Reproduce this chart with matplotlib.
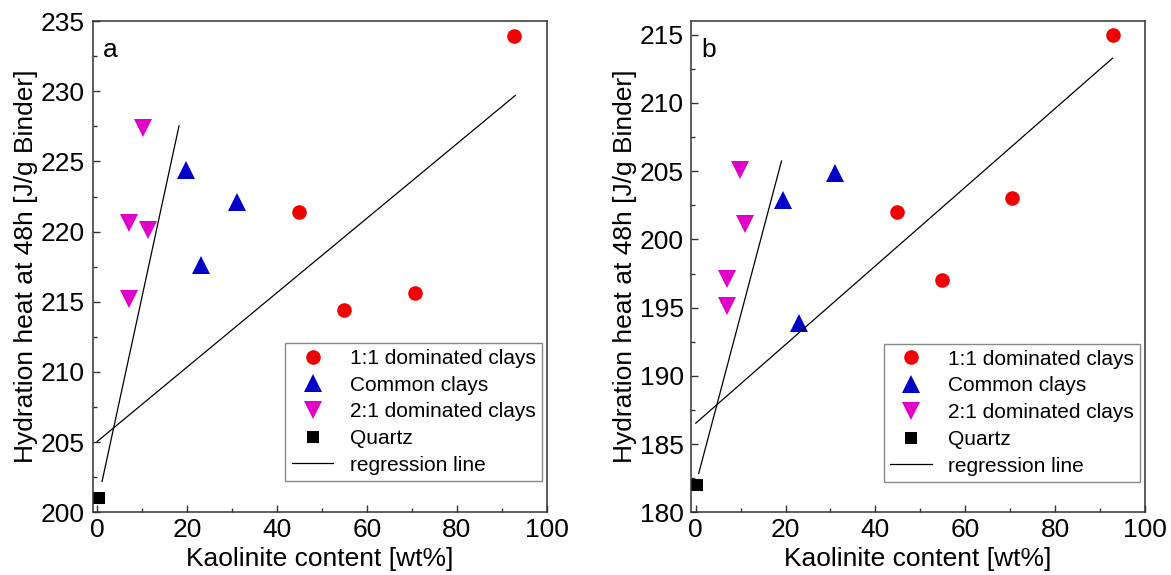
import matplotlib
matplotlib.use("Agg")
import matplotlib.pyplot as plt
from matplotlib.ticker import MultipleLocator

plt.rcParams['font.family'] = ['Liberation Sans', 'DejaVu Sans']

# ---- data: panel a ----
a_11_x = [92.8, 44.9, 55.0, 70.8]
a_11_y = [233.9, 221.4, 214.4, 215.6]
a_common_x = [19.8, 31.1, 23.1]
a_common_y = [224.4, 222.1, 217.6]
a_21_x = [10.1, 7.0, 11.2, 7.0]
a_21_y = [227.4, 220.6, 220.1, 215.2]
a_qz_x = [0.3]
a_qz_y = [201.0]
a_reg1_x = [0.0, 93.0]
a_reg1_y = [205.05, 229.7]
a_reg2_x = [1.07, 18.2]
a_reg2_y = [202.2, 227.54]

# ---- data: panel b ----
b_11_x = [92.8, 44.8, 54.9, 70.4]
b_11_y = [215.0, 202.0, 197.0, 203.0]
b_common_x = [19.4, 30.9, 22.9]
b_common_y = [202.9, 204.9, 193.9]
b_21_x = [9.9, 11.0, 7.0, 7.0]
b_21_y = [205.1, 201.1, 197.1, 195.1]
b_qz_x = [0.25]
b_qz_y = [182.0]
b_reg1_x = [0.0, 92.8]
b_reg1_y = [186.53, 213.28]
b_reg2_x = [0.66, 19.1]
b_reg2_y = [182.85, 205.75]

labels = ["1:1 dominated clays", "Common clays", "2:1 dominated clays", "Quartz", "regression line"]
RED = '#F00000'
BLUE = '#0000C8'
MAG = '#E000C8'

fig = plt.figure(figsize=(11.71, 5.75), dpi=100)
axA = fig.add_axes([0.0792, 0.109, 0.3877, 0.8544])
axB = fig.add_axes([0.5903, 0.109, 0.3874, 0.8544])

panels = [
    (axA, a_11_x, a_11_y, a_common_x, a_common_y, a_21_x, a_21_y, a_qz_x, a_qz_y,
     a_reg1_x, a_reg1_y, a_reg2_x, a_reg2_y, (200, 235), 5, 'a', 0.064),
    (axB, b_11_x, b_11_y, b_common_x, b_common_y, b_21_x, b_21_y, b_qz_x, b_qz_y,
     b_reg1_x, b_reg1_y, b_reg2_x, b_reg2_y, (180, 216), 5, 'b', 0.062),
]

for (ax, x11, y11, xc, yc, x21, y21, xq, yq, r1x, r1y, r2x, r2y, ylim, ystep, tag, legy) in panels:
    h1, = ax.plot(x11, y11, 'o', color=RED, ms=10.5, ls='none', mew=0)
    h2, = ax.plot(xc, yc, '^', color=BLUE, ms=13, ls='none', mew=0)
    h3, = ax.plot(x21, y21, 'v', color=MAG, ms=13, ls='none', mew=0)
    h4, = ax.plot(xq, yq, 's', color='black', ms=8, ls='none', mew=0, clip_on=False)
    h5, = ax.plot(r1x, r1y, '-', color='black', lw=0.9)
    ax.plot(r2x, r2y, '-', color='black', lw=0.9)

    ax.set_xlim(-1, 100)
    ax.set_ylim(*ylim)
    ax.xaxis.set_major_locator(MultipleLocator(20))
    ax.xaxis.set_minor_locator(MultipleLocator(10))
    ax.yaxis.set_major_locator(MultipleLocator(ystep))
    ax.yaxis.set_minor_locator(MultipleLocator(ystep / 2))
    ax.tick_params(which='both', direction='in', top=False, right=False, labelsize=19,
                   color='#333333')
    ax.tick_params(which='major', length=5, width=1)
    ax.tick_params(which='minor', length=3, width=1)
    ax.tick_params(axis='y', pad=5.5)
    ax.tick_params(axis='x', pad=4)
    for s in ax.spines.values():
        s.set_color('#333333')
        s.set_linewidth(1.1)

    ax.set_xlabel("Kaolinite content [wt%]", fontsize=19, labelpad=4)
    ax.set_ylabel("Hydration heat at 48h [J/g Binder]", fontsize=19, labelpad=2)
    ax.text(0.022, 0.941, tag, transform=ax.transAxes, fontsize=19, va='center', ha='left')

    leg = ax.legend([h1, h2, h3, h4, h5], labels, loc='lower right',
                    bbox_to_anchor=(0.99, legy), borderaxespad=0, fontsize=15,
                    frameon=True, fancybox=False, edgecolor='#888888', framealpha=1,
                    handlelength=2.0, handletextpad=0.8, labelspacing=0.37,
                    borderpad=0.3, markerscale=1.0)
    leg.get_frame().set_linewidth(1.0)

fig.savefig("out.png", dpi=100)
